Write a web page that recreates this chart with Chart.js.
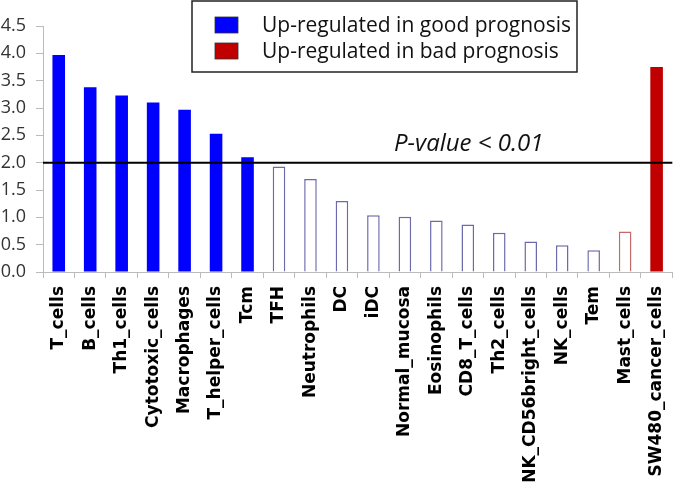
<!DOCTYPE html>
<html>
<head>
<meta charset="utf-8">
<script src="https://cdn.jsdelivr.net/npm/chart.js@4/dist/chart.umd.min.js"></script>
<style>
  html, body { margin: 0; padding: 0; background: #fff; }
  #wrap { width: 685px; height: 494px; }
</style>
</head>
<body>
<div id="wrap"><canvas id="my-chart" width="685" height="494"></canvas></div>
<script>
const cells = ['T_cells', 'B_cells', 'Th1_cells', 'Cytotoxic_cells', 'Macrophages', 'T_helper_cells', 'Tcm',
  'TFH', 'Neutrophils', 'DC', 'iDC', 'Normal_mucosa', 'Eosinophils', 'CD8_T_cells', 'Th2_cells',
  'NK_CD56bright_cells', 'NK_cells', 'Tem', 'Mast_cells', 'SW480_cancer_cells'];
const scores = [3.97, 3.38, 3.23, 3.10, 2.97, 2.53, 2.10,
  1.93, 1.70, 1.30, 1.04, 1.01, 0.94, 0.87, 0.72,
  0.56, 0.49, 0.40, 0.74, 3.75];
// 'good' / 'bad' prognosis, significant or not
const groups = ['good', 'good', 'good', 'good', 'good', 'good', 'good',
  'good-ns', 'good-ns', 'good-ns', 'good-ns', 'good-ns', 'good-ns', 'good-ns', 'good-ns',
  'good-ns', 'good-ns', 'good-ns', 'bad-ns', 'bad'];
const yTicks = [0, 0.5, 1.0, 1.5, 2.0, 2.5, 3.0, 3.5, 4.0, 4.5];
const threshold = 2.0;
const thresholdLabel = 'P-value < 0.01';
const legendItems = ['Up-regulated in good prognosis', 'Up-regulated in bad prognosis'];

const fillOf = {good: '#0000ff', 'good-ns': '#ffffff', 'bad-ns': '#ffffff', bad: '#c00000'};
const lineOf = {good: '#0000ff', 'good-ns': '#6b6bab', 'bad-ns': '#c06a6a', bad: '#c00000'};

const extras = {
  id: 'extras',
  afterDatasetsDraw(chart) {
    const {ctx, chartArea, scales} = chart;
    const y = scales.y.getPixelForValue(threshold);
    ctx.save();
    ctx.strokeStyle = '#000';
    ctx.lineWidth = 2;
    ctx.beginPath();
    ctx.moveTo(chartArea.left, y);
    ctx.lineTo(chartArea.right, y);
    ctx.stroke();
    ctx.fillStyle = '#111';
    ctx.font = 'italic 24px "Open Sans"';
    ctx.textAlign = 'left';
    ctx.textBaseline = 'alphabetic';
    ctx.fillText(thresholdLabel, 394, y - 12);

    // legend box
    ctx.fillStyle = '#fff';
    ctx.fillRect(192, 1, 385, 71);
    ctx.strokeStyle = '#222';
    ctx.lineWidth = 1.5;
    ctx.strokeRect(192, 1, 385, 71);
    const sw = ['#0000ff', '#c00000'];
    ctx.font = '21px "Open Sans"';
    legendItems.forEach((t, i) => {
      const top = 17 + i * 26;
      ctx.fillStyle = sw[i];
      ctx.fillRect(215, top, 23, 16);
      ctx.strokeStyle = '#333';
      ctx.lineWidth = 0.8;
      ctx.strokeRect(215, top, 23, 16);
      ctx.fillStyle = '#111';
      ctx.fillText(t, 262, 32 + i * 26);
    });
    ctx.restore();
  }
};

new Chart(document.getElementById('my-chart').getContext('2d'), {
  type: 'bar',
  data: {
    labels: cells,
    datasets: [{
      data: scores,
      backgroundColor: groups.map(g => fillOf[g]),
      borderColor: groups.map(g => lineOf[g]),
      borderWidth: groups.map(g => g.endsWith('ns') ? 1.5 : 0),
      barPercentage: 0.4,
      categoryPercentage: 1.0
    }]
  },
  options: {
    responsive: false,
    animation: false,
    layout: {padding: {top: 26, right: 0, left: 0, bottom: 0}},
    plugins: {legend: {display: false}, tooltip: {enabled: false}},
    scales: {
      x: {
        afterFit: s => { s.height = 222; },
        grid: {drawOnChartArea: false, tickLength: 6, color: '#bbb', offset: true},
        border: {color: '#bbb'},
        ticks: {
          minRotation: 90, maxRotation: 90, autoSkip: false,
          color: '#000', font: {family: '"DejaVu Sans"', size: 17, weight: 'bold'}, padding: 8
        }
      },
      y: {
        min: 0, max: 4.5,
        afterFit: s => { s.width = 43; },
        afterBuildTicks: s => { s.ticks = yTicks.map(v => ({value: v})); },
        grid: {drawOnChartArea: false, tickLength: 7, color: '#bbb'},
        border: {color: '#bbb'},
        ticks: {
          color: '#333', font: {family: '"Open Sans"', size: 18}, padding: 10,
          callback: v => v.toFixed(1)
        }
      }
    }
  },
  plugins: [extras]
});
</script>
</body>
</html>
